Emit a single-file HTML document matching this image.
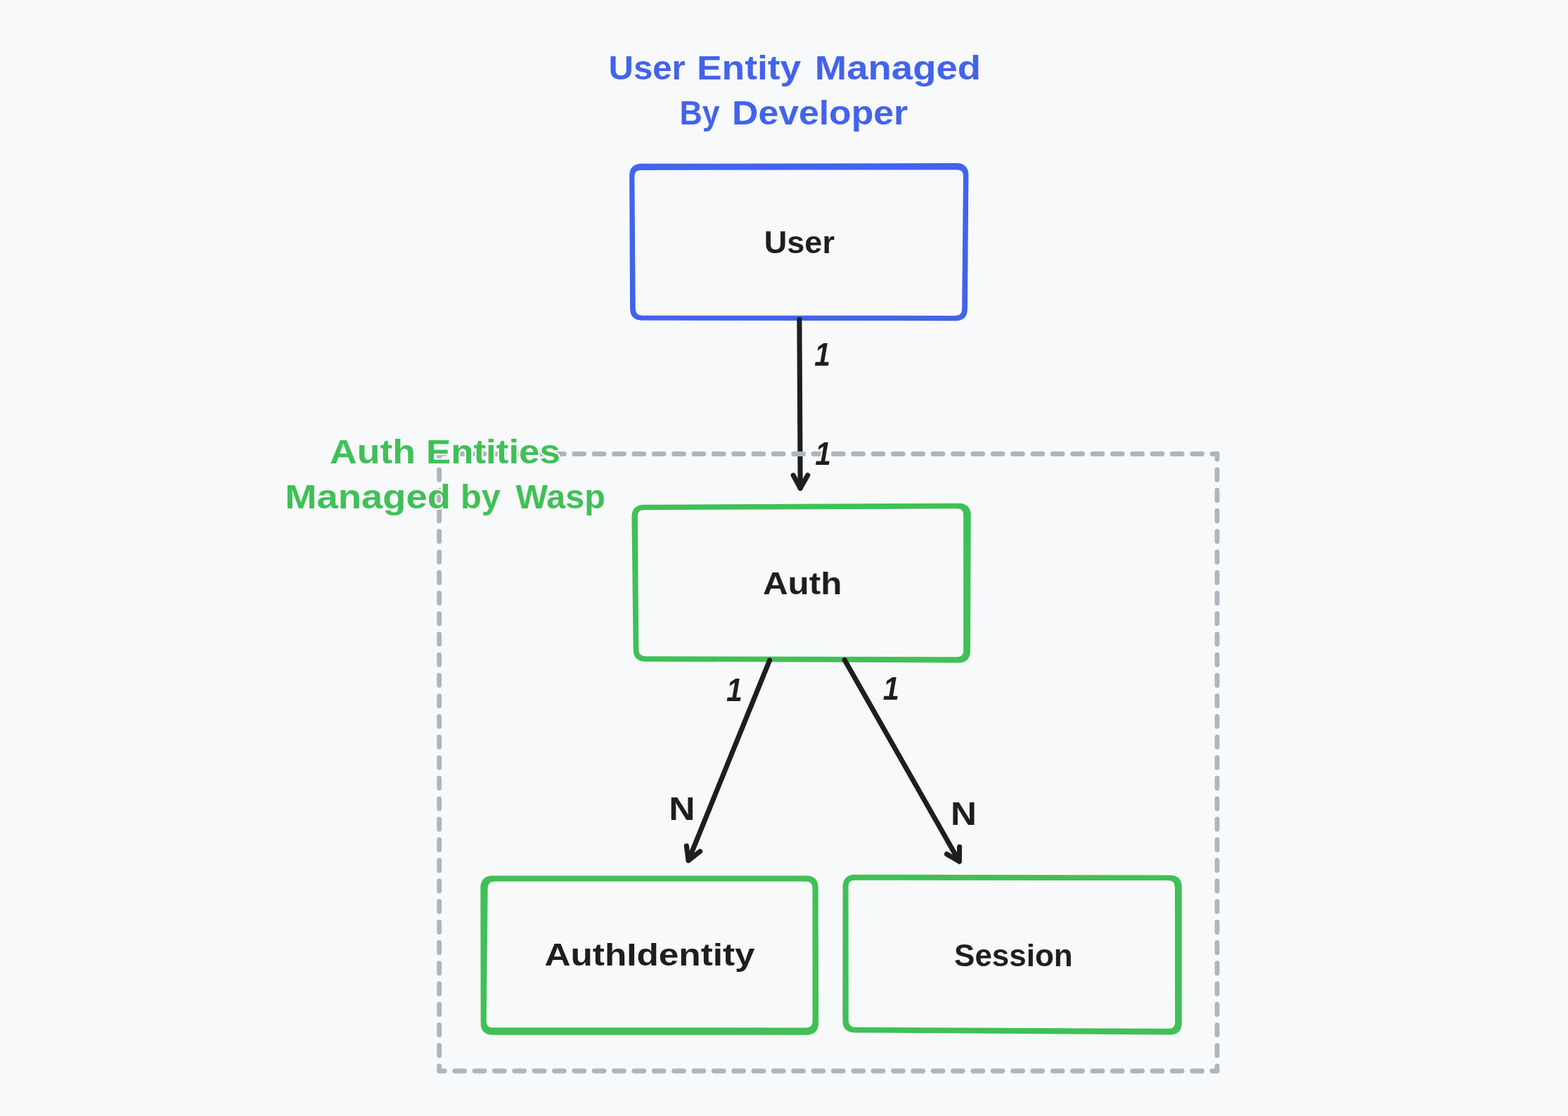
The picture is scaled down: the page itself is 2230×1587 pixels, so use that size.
<!DOCTYPE html>
<html lang="en">
<head>
<meta charset="utf-8">
<title>Auth entities diagram</title>
<style>html,body{margin:0;padding:0;background:#f8f9fa;}body{width:2230px;height:1587px;overflow:hidden;}svg{display:block;}</style>
</head>
<body>
<svg width="2230" height="1587" viewBox="0 0 2230 1587">
<rect width="2230" height="1587" fill="#f8f9fa"/>
<g fill="none" stroke="#4263eb" stroke-width="6.6" stroke-linejoin="round" stroke-linecap="round"><path d="M912.4 236.17L1360.2 235.33Q1374.2 235.3 1374.09 249.3L1372.61 438.9Q1372.5 452.9 1358.5 452.88L913.4 452.32Q899.4 452.3 899.34 438.3L898.46 250.2Q898.4 236.2 912.4 236.17Z"/><path d="M912 238.68L1360.4 238.12Q1373.4 238.1 1373.27 251.1L1371.43 439.2Q1371.3 452.2 1358.3 452.19L913.5 452.01Q900.5 452 900.41 439L899.09 251.7Q899 238.7 912 238.68Z"/></g>
<g fill="none" stroke="#40c057" stroke-width="6.6" stroke-linejoin="round" stroke-linecap="round"><path d="M915.6 720.94L1363.5 718.96Q1377.5 718.9 1377.44 732.9L1376.66 925.2Q1376.6 939.2 1362.6 939.15L918.1 937.45Q904.1 937.4 903.94 923.4L901.76 735Q901.6 721 915.6 720.94Z"/><path d="M916.5 721.84L1360.4 719.96Q1373.4 719.9 1373.41 732.9L1373.49 924.6Q1373.5 937.6 1360.5 937.57L918.1 936.43Q905.1 936.4 905 923.4L903.6 734.9Q903.5 721.9 916.5 721.84Z"/></g>
<g fill="none" stroke="#40c057" stroke-width="6.6" stroke-linejoin="round" stroke-linecap="round"><path d="M700.6 1248.5L1146.3 1248.6Q1160.3 1248.6 1160.34 1262.6L1160.86 1454.4Q1160.9 1468.4 1146.9 1468.4L701 1468.4Q687 1468.4 686.97 1454.4L686.63 1262.5Q686.6 1248.5 700.6 1248.5Z"/><path d="M703.5 1250.1L1145.8 1250.1Q1158.8 1250.1 1158.81 1263.1L1158.89 1451.7Q1158.9 1464.7 1145.9 1464.7L701.3 1464.6Q688.3 1464.6 688.43 1451.6L690.37 1263.1Q690.5 1250.1 703.5 1250.1Z"/></g>
<g fill="none" stroke="#40c057" stroke-width="6.6" stroke-linejoin="round" stroke-linecap="round"><path d="M1215.9 1246.93L1663.5 1247.87Q1677.5 1247.9 1677.5 1261.9L1677.5 1454.4Q1677.5 1468.4 1663.5 1468.3L1215.6 1465.1Q1201.6 1465 1201.62 1451L1201.88 1260.9Q1201.9 1246.9 1215.9 1246.93Z"/><path d="M1216.2 1248.51L1661.2 1248.79Q1674.2 1248.8 1674.21 1261.8L1674.39 1453.1Q1674.4 1466.1 1661.4 1466.04L1216.5 1464.06Q1203.5 1464 1203.48 1451L1203.22 1261.5Q1203.2 1248.5 1216.2 1248.51Z"/></g>
<g fill="none" stroke="#1e1e1e" stroke-width="7.1" stroke-linecap="round" stroke-linejoin="round"><path d="M1136.9 454.3L1138.2 694.3"/><path d="M1128.2 675.9L1138.2 694.3L1148.7 675.8"/></g>
<g fill="none" stroke="#1e1e1e" stroke-width="7.1" stroke-linecap="round" stroke-linejoin="round"><path d="M1094.6 938.8L979.1 1223.6"/><path d="M976.3 1202.9L979.1 1223.6L995.6 1210.8"/></g>
<g fill="none" stroke="#1e1e1e" stroke-width="7.1" stroke-linecap="round" stroke-linejoin="round"><path d="M1201.2 938.5L1364.3 1225"/><path d="M1346.5 1214.6L1364.3 1225L1364.6 1204.2"/></g>
<g fill="none" stroke="#adb5bd" stroke-width="6.9" stroke-linecap="round"><path d="M624.7 645.5L1731 645.5" stroke-dasharray="13.8 14.55" stroke-dashoffset="6.3"/><path d="M624.7 1523L1731 1523" stroke-dasharray="13.8 14.55" stroke-dashoffset="6.3"/><path d="M624.7 645.5L624.7 1523" stroke-dasharray="14.2 15.04" stroke-dashoffset="6.75"/><path d="M1731 645.5L1731 1523" stroke-dasharray="14.2 15.04" stroke-dashoffset="6.75"/></g>
<g font-family="'Liberation Sans', sans-serif" font-weight="bold" stroke="#f8f9fa" stroke-width="4.4" stroke-linejoin="round" paint-order="stroke" style="will-change:transform">
<text y="112.8" font-size="48.5" fill="#4263eb"><tspan x="865.63" textLength="109.04" lengthAdjust="spacingAndGlyphs">User</tspan> <tspan x="990.99" textLength="148.31" lengthAdjust="spacingAndGlyphs">Entity</tspan> <tspan x="1158.84" textLength="236.29" lengthAdjust="spacingAndGlyphs">Managed</tspan></text>
<text y="177" font-size="48.5" fill="#4263eb"><tspan x="966.61" textLength="57.09" lengthAdjust="spacingAndGlyphs">By</tspan> <tspan x="1041.08" textLength="250.16" lengthAdjust="spacingAndGlyphs">Developer</tspan></text>
<text y="659" font-size="48.5" fill="#40c057"><tspan x="469.05" textLength="122.08" lengthAdjust="spacingAndGlyphs">Auth</tspan> <tspan x="605.99" textLength="190.88" lengthAdjust="spacingAndGlyphs">Entities</tspan></text>
<text y="723.3" font-size="48.5" fill="#40c057"><tspan x="405.32" textLength="235.63" lengthAdjust="spacingAndGlyphs">Managed</tspan> <tspan x="655.08" textLength="56.89" lengthAdjust="spacingAndGlyphs">by</tspan> <tspan x="733.5" textLength="127.19" lengthAdjust="spacingAndGlyphs">Wasp</tspan></text>
<text y="360.2" font-size="45" fill="#1e1e1e"><tspan x="1086.74" textLength="100.21" lengthAdjust="spacingAndGlyphs">User</tspan></text>
<text y="844.6" font-size="45" fill="#1e1e1e"><tspan x="1084.96" textLength="112.46" lengthAdjust="spacingAndGlyphs">Auth</tspan></text>
<text y="1373.2" font-size="45" fill="#1e1e1e"><tspan x="774.44" textLength="299.13" lengthAdjust="spacingAndGlyphs">AuthIdentity</tspan></text>
<text y="1373.8" font-size="45" fill="#1e1e1e"><tspan x="1357.1" textLength="168.5" lengthAdjust="spacingAndGlyphs">Session</tspan></text>
<text y="519.9" font-size="47" fill="#1e1e1e" font-style="italic"><tspan x="1158.33" textLength="22.57" lengthAdjust="spacingAndGlyphs">1</tspan></text>
<text y="661" font-size="47" fill="#1e1e1e" font-style="italic"><tspan x="1159.33" textLength="22.57" lengthAdjust="spacingAndGlyphs">1</tspan></text>
<text y="996.9" font-size="47" fill="#1e1e1e" font-style="italic"><tspan x="1032.99" textLength="22.83" lengthAdjust="spacingAndGlyphs">1</tspan></text>
<text y="994.7" font-size="47" fill="#1e1e1e" font-style="italic"><tspan x="1255.8" textLength="23.13" lengthAdjust="spacingAndGlyphs">1</tspan></text>
<text y="1165.5" font-size="46.5" fill="#1e1e1e"><tspan x="951.2" textLength="37.26" lengthAdjust="spacingAndGlyphs">N</tspan></text>
<text y="1172.5" font-size="46.5" fill="#1e1e1e"><tspan x="1351.94" textLength="36.98" lengthAdjust="spacingAndGlyphs">N</tspan></text>
</g>
</svg>
</body>
</html>
